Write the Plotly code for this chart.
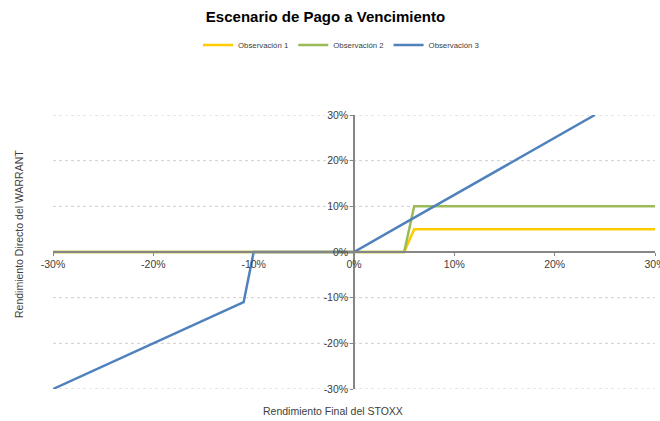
import plotly.graph_objects as go

# Data (percent)
obs1_x = [-30, 5, 6, 30]
obs1_y = [0, 0, 5, 5]
obs2_x = [-30, 5, 6, 30]
obs2_y = [0, 0, 10, 10]
obs3_x = [-30, -25, -20, -15, -11, -10, -5, 0, 5, 10, 15, 20, 24]
obs3_y = [-30, -25, -20, -15, -11, 0, 0, 0, 6.25, 12.5, 18.75, 25, 30]
tick_vals = [-30, -20, -10, 0, 10, 20, 30]
tick_text = ["-30%", "-20%", "-10%", "0%", "10%", "20%", "30%"]

FONT = "Liberation Sans, Arial, sans-serif"

fig = go.Figure()
fig.add_trace(go.Scatter(x=obs1_x, y=obs1_y, mode="lines", name="Observación 1",
                         line=dict(color="#FFCC00", width=2.5)))
fig.add_trace(go.Scatter(x=obs2_x, y=obs2_y, mode="lines", name="Observación 2",
                         line=dict(color="#9BBB59", width=2.5)))
fig.add_trace(go.Scatter(x=obs3_x, y=obs3_y, mode="lines", name="Observación 3",
                         line=dict(color="#4F81BD", width=2.5)))

# horizontal dashed gridlines
for v in [-30, -20, -10, 10, 20, 30]:
    fig.add_shape(type="line", xref="paper", x0=0, x1=1, yref="y", y0=v, y1=v,
                  line=dict(color="#CFCFCF", width=1, dash="dot"), layer="below")

fig.update_layout(
    width=660, height=421,
    margin=dict(l=53, r=5, t=115, b=32, autoexpand=False),
    paper_bgcolor="white", plot_bgcolor="white",
    font=dict(family=FONT, color="#404040", size=10),
    title=dict(text="<b>Escenario de Pago a Vencimiento</b>", x=(325.5 - 53) / 602,
               xref="paper", xanchor="center",
               y=404 / 421, yanchor="middle", font=dict(size=15, color="#000000", family=FONT)),
    showlegend=True,
    legend=dict(orientation="h", x=(341 - 53) / 602, xanchor="center",
                y=(115 - 45) / 274 + 1, yanchor="middle",
                font=dict(size=7.8, color="#404040"), itemwidth=30,
                bgcolor="rgba(0,0,0,0)"),
    xaxis=dict(range=[-30, 30], tickvals=tick_vals, ticktext=tick_text,
               showgrid=False, zeroline=False, showline=True, linecolor="#868686",
               linewidth=1.5, ticks="outside", ticklen=3, tickcolor="#868686",
               anchor="free", position=0.5, ticklabeloverflow="allow",
               tickfont=dict(size=10.5, color="#404040")),
    yaxis=dict(range=[-30, 30], tickvals=tick_vals, ticktext=tick_text,
               showgrid=False, zeroline=False, showline=True, linecolor="#868686",
               linewidth=1.5, ticks="outside", ticklen=3, tickcolor="#868686",
               anchor="free", position=0.5, ticklabeloverflow="allow",
               tickfont=dict(size=10.5, color="#404040")),
    annotations=[
        dict(text="Rendimiento Final del STOXX", xref="paper", yref="paper",
             x=(333 - 53) / 602, y=-(411 - 389) / 274, xanchor="center", yanchor="middle",
             showarrow=False, font=dict(size=10.5, color="#404040")),
        dict(text="Rendimiento Directo del WARRANT", xref="paper", yref="paper",
             x=-(53 - 19) / 602, y=(389 - 234) / 274, xanchor="center", yanchor="middle",
             textangle=-90, showarrow=False, font=dict(size=10.5, color="#404040")),
    ],
)

fig.write_html("out.html", config={"displayModeBar": False},
               post_script="document.body.style.margin='0';")
